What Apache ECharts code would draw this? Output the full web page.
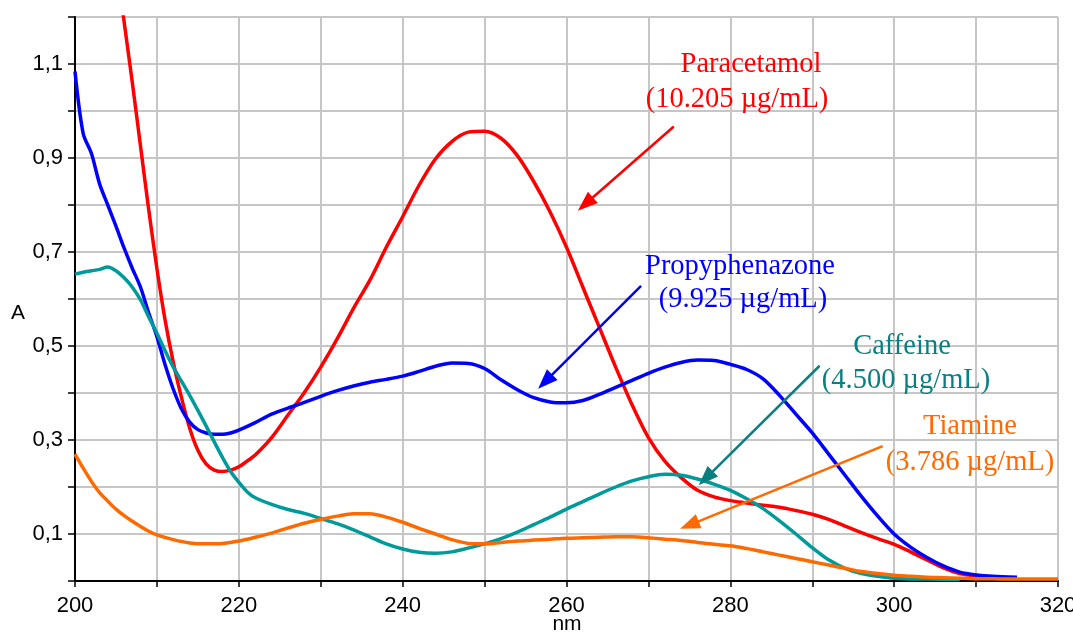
<!DOCTYPE html>
<html>
<head>
<meta charset="utf-8">
<script src="https://cdn.jsdelivr.net/npm/echarts@6/dist/echarts.min.js"></script>
<style>
html,body{margin:0;padding:0;background:#fff;}
#chart{width:1073px;height:635px;}
</style>
</head>
<body>
<div id="chart"></div>
<script>
// ---- Data (absorbance A vs wavelength nm) ----
const paracetamolNm = [205.8,207,208,209,210,211,212,213,214,215,216,217,218,219,220,221,222,224,226,228,230,232,234,236,238,240,242,244,246,248,250,252,254,256,258,260,262,264,266,268,270,272,274,276,278,280,282,284,286,288,290,292,294,296,298,300,302,304,306,308,310,312];
const paracetamolA = [1.215,1.06,0.925,0.79,0.665,0.555,0.465,0.39,0.325,0.278,0.249,0.236,0.233,0.236,0.243,0.255,0.268,0.305,0.353,0.401,0.455,0.515,0.58,0.64,0.71,0.775,0.842,0.898,0.935,0.955,0.957,0.942,0.905,0.85,0.785,0.71,0.625,0.54,0.455,0.375,0.305,0.255,0.22,0.193,0.179,0.171,0.166,0.161,0.157,0.15,0.142,0.131,0.117,0.103,0.09,0.078,0.062,0.045,0.028,0.016,0.011,0.009];

const propyNm = [200,201,202,203,204,205,206,207,208,209,210,211,212,213,214,215,216,217,218,219,220,222,224,226,228,230,232,234,236,238,240,242,244,246,248,250,252,254,256,258,260,262,264,266,268,270,272,274,276,278,280,282,284,286,288,290,292,294,296,298,300,302,304,306,308,310,312,315];
const propyA = [1.084,0.952,0.91,0.845,0.8,0.755,0.708,0.665,0.625,0.57,0.52,0.46,0.408,0.366,0.338,0.322,0.315,0.312,0.312,0.315,0.321,0.337,0.355,0.368,0.38,0.393,0.405,0.415,0.423,0.429,0.436,0.446,0.457,0.464,0.463,0.452,0.428,0.407,0.39,0.381,0.379,0.384,0.397,0.412,0.427,0.442,0.455,0.465,0.47,0.469,0.461,0.45,0.43,0.395,0.355,0.315,0.27,0.225,0.18,0.138,0.1,0.072,0.05,0.032,0.019,0.013,0.01,0.008];

const caffeineNm = [200,201,202,203,204,205,206,207,208,209,210,211,212,213,214,215,216,217,218,219,220,221,222,224,226,228,230,232,234,236,238,240,242,244,246,248,250,252,254,256,258,260,262,264,266,268,270,272,274,276,278,280,282,284,286,288,290,292,294,296,298,300,304,308];
const caffeineA = [0.653,0.657,0.66,0.663,0.668,0.66,0.645,0.625,0.598,0.562,0.527,0.49,0.455,0.425,0.395,0.363,0.33,0.296,0.263,0.233,0.21,0.19,0.177,0.163,0.152,0.144,0.133,0.122,0.109,0.094,0.079,0.068,0.061,0.059,0.062,0.07,0.079,0.09,0.104,0.12,0.136,0.153,0.169,0.185,0.2,0.213,0.222,0.227,0.225,0.217,0.206,0.193,0.175,0.154,0.128,0.1,0.071,0.045,0.027,0.016,0.01,0.006,0.004,0.003];

const tiamineNm = [200,201,202,203,204,205,206,207,208,209,210,212,214,216,218,220,222,224,226,228,230,232,234,236,238,240,242,244,246,248,250,252,254,256,258,260,262,264,266,268,270,272,274,276,278,280,282,284,286,288,290,292,294,296,298,300,302,304,306,308,310,312,314,316,318,320];
const tiamineA = [0.27,0.24,0.212,0.188,0.17,0.153,0.139,0.127,0.116,0.106,0.098,0.088,0.081,0.079,0.08,0.085,0.093,0.102,0.113,0.123,0.131,0.138,0.143,0.143,0.136,0.125,0.112,0.1,0.088,0.08,0.079,0.082,0.085,0.087,0.089,0.091,0.092,0.093,0.094,0.094,0.092,0.089,0.086,0.082,0.078,0.075,0.069,0.062,0.055,0.048,0.041,0.034,0.027,0.02,0.016,0.012,0.01,0.008,0.007,0.006,0.005,0.005,0.004,0.004,0.004,0.004];

// Annotation labels and arrows (arrow ends in data coordinates: [nm, A])
const labelLines = {
  paracetamol: ['Paracetamol', '(10.205 µg/mL)'],
  propy: ['Propyphenazone', '(9.925 µg/mL)'],
  caffeine: ['Caffeine', '(4.500 µg/mL)'],
  tiamine: ['Tiamine', '(3.786 µg/mL)']
};
const arrowParacetamol = [[273.1, 0.967], [262.3, 0.802]];
const arrowPropy = [[269.1, 0.628], [257.4, 0.424]];
const arrowCaffeine = [[290.9, 0.458], [277.0, 0.2185]];
const arrowTiamine = [[298.6, 0.287], [275.0, 0.119]];

const xTicks = [200, 220, 240, 260, 280, 300, 320];
const xAxisTitle = 'nm';
const yAxisTitle = 'A';

function zip(xs, ys) { return xs.map((x, i) => [x, ys[i]]); }

const COLORS = { red: '#ff0000', blue: '#0000ff', teal: '#009a9a', tealText: '#0b7f7f', orange: '#ff6a00' };
const SANS = '"Liberation Sans", Arial, sans-serif';

function arrowMark(pair, color) {
  return {
    silent: true,
    symbol: ['none', 'triangle'],
    symbolSize: [15, 20],
    label: { show: false },
    lineStyle: { color: color, width: 2.5, type: 'solid' },
    emphasis: { disabled: true },
    data: [[{ coord: pair[0] }, { coord: pair[1] }]]
  };
}

function lineSeries(name, data, color, arrow, arrowColor) {
  return {
    name: name, type: 'line', data: data, showSymbol: false, smooth: 0.3,
    clip: true, lineStyle: { color: color, width: 3.5 }, itemStyle: { color: color },
    emphasis: { disabled: true },
    markLine: arrowMark(arrow, arrowColor || color),
    z: 3
  };
}

const serifFont = '28.5px "Liberation Serif", "Times New Roman", serif';
function textEl(str, x, y, color, font) {
  return { type: 'text', x: x, y: y, silent: true, z: 10,
    style: { text: str, fill: color, font: font || serifFont, align: 'center', verticalAlign: 'middle' } };
}

const chart = echarts.init(document.getElementById('chart'), null, { renderer: 'canvas' });
chart.setOption({
  animation: false,
  backgroundColor: '#ffffff',
  grid: { left: 75, right: 15, top: 17, bottom: 54, containLabel: false, outerBoundsMode: 'none' },
  xAxis: {
    type: 'value', min: 200, max: 320, interval: 10,
    axisLine: { show: true, onZero: false, lineStyle: { color: '#000', width: 2 } },
    axisTick: { show: true, length: 6, lineStyle: { color: '#000', width: 1.5 } },
    axisLabel: {
      color: '#000', fontSize: 22, fontFamily: SANS, margin: 14,
      formatter: v => xTicks.indexOf(Math.round(v)) >= 0 ? String(Math.round(v)) : ''
    },
    splitLine: { show: true, lineStyle: { color: '#c6c6c6', width: 2 } }
  },
  yAxis: {
    type: 'value', min: 0, max: 1.2, interval: 0.1,
    axisLine: { show: true, lineStyle: { color: '#000', width: 2 } },
    axisTick: { show: true, length: 7, lineStyle: { color: '#000', width: 1.5 } },
    axisLabel: {
      color: '#000', fontSize: 22, fontFamily: SANS, margin: 12,
      formatter: v => { const k = Math.round(v * 10); return (k % 2 === 1) ? (k / 10).toFixed(1).replace('.', ',') : ''; }
    },
    splitLine: { show: true, lineStyle: { color: '#c6c6c6', width: 2 } }
  },
  series: [
    lineSeries('Paracetamol', zip(paracetamolNm, paracetamolA), COLORS.red, arrowParacetamol),
    lineSeries('Propyphenazone', zip(propyNm, propyA), COLORS.blue, arrowPropy),
    lineSeries('Caffeine', zip(caffeineNm, caffeineA), COLORS.teal, arrowCaffeine, COLORS.tealText),
    lineSeries('Tiamine', zip(tiamineNm, tiamineA), COLORS.orange, arrowTiamine)
  ],
  graphic: [
    textEl(yAxisTitle, 18, 313, '#000', '21px ' + SANS),
    textEl(xAxisTitle, 567, 624, '#000', '21px ' + SANS),
    textEl(labelLines.paracetamol[0], 751, 65, COLORS.red),
    textEl(labelLines.paracetamol[1], 737, 100, COLORS.red),
    textEl(labelLines.propy[0], 740, 267, COLORS.blue),
    textEl(labelLines.propy[1], 743, 300, COLORS.blue),
    textEl(labelLines.caffeine[0], 902, 347, COLORS.tealText),
    textEl(labelLines.caffeine[1], 906, 381, COLORS.tealText),
    textEl(labelLines.tiamine[0], 970, 427, COLORS.orange),
    textEl(labelLines.tiamine[1], 970, 463, COLORS.orange)
  ]
});
</script>
</body>
</html>
